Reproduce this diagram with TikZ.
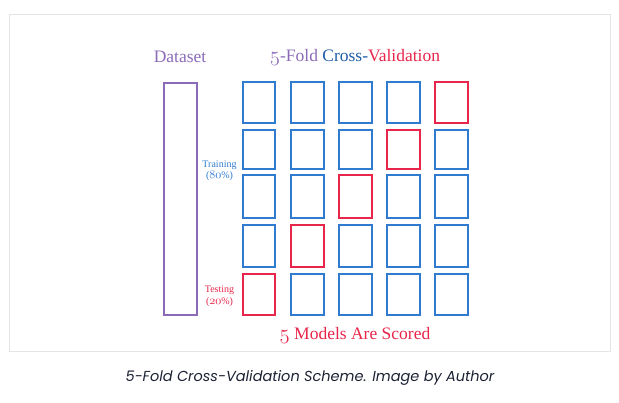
\documentclass[tikz,border=0pt]{standalone}
\usepackage{fontspec}
\usepackage{graphicx}
\newfontfamily\capfont{Poppins}
\newfontfamily\dfont{Liberation Serif}
\newcommand\osfig[1]{\scalebox{1.2}{\fontencoding{OML}\fontfamily{lmm}\fontseries{b}\fontshape{it}\selectfont #1}}
\definecolor{dpurple}{HTML}{8B6BB8}
\definecolor{bblue}{HTML}{2F7BD0}
\definecolor{dblue}{HTML}{1F5CA6}
\definecolor{rred}{HTML}{E8254A}
\definecolor{capcol}{HTML}{1C2233}
\definecolor{framecol}{HTML}{E4E4E4}
\begin{document}
\begin{tikzpicture}[x=1pt,y=-1pt,
  fold/.style={draw=bblue,line width=2.4pt,minimum width=32.5pt,inner sep=0pt},
  testfold/.style={fold,draw=rred},
  title/.style={font=\dfont\fontsize{17.5}{20}\selectfont},
  side/.style={font=\dfont\fontsize{10}{11.5}\selectfont,align=center}]
\useasboundingbox (0,0) rectangle (619,402);
\node[draw=framecol,line width=1pt,minimum width=601pt,minimum height=337pt,inner sep=0pt] (frame) at (310.3,182.5) {};
% dataset
\node[draw=dpurple,line width=2pt,minimum width=33pt,minimum height=232pt,inner sep=0pt] (data) at (180.1,198.9) {};
\node[title,text=dpurple] (dtitle) at (180,57) {Dataset};
\node[title] (ftitle) at (355,57) {\textcolor{dpurple}{\osfig{5}-Fold} \textcolor{dblue}{Cross-}\textcolor{rred}{Validation}};
% grid
\foreach \c/\x in {1/259,2/307.5,3/355.5,4/403.5,5/451.5}{
  \foreach \r/\y/\h in {1/102.5/41.5,2/149.25/39,3/196.5/42.5,4/245.75/42,5/294.5/40.5}{
    \pgfmathtruncatemacro{\t}{6-\r}
    \ifnum\c=\t
      \node[testfold,minimum height=\h pt] (b-\r-\c) at (\x,\y) {};
    \else
      \node[fold,minimum height=\h pt] (b-\r-\c) at (\x,\y) {};
    \fi
  }
}
\node[side,text=bblue] (train) at (219.5,171) {Training\\(\osfig{80}\%)};
\node[side,text=rred] (test) at (219.5,296) {Testing\\(\osfig{20}\%)};
\node[title,text=rred] (scored) at (355,335) {\osfig{5} Models Are Scored};
\node[font=\capfont\itshape\fontsize{14.5}{16}\selectfont,text=capcol] (cap) at (310,378) {5-Fold Cross-Validation Scheme. Image by Author};
\end{tikzpicture}
\end{document}
